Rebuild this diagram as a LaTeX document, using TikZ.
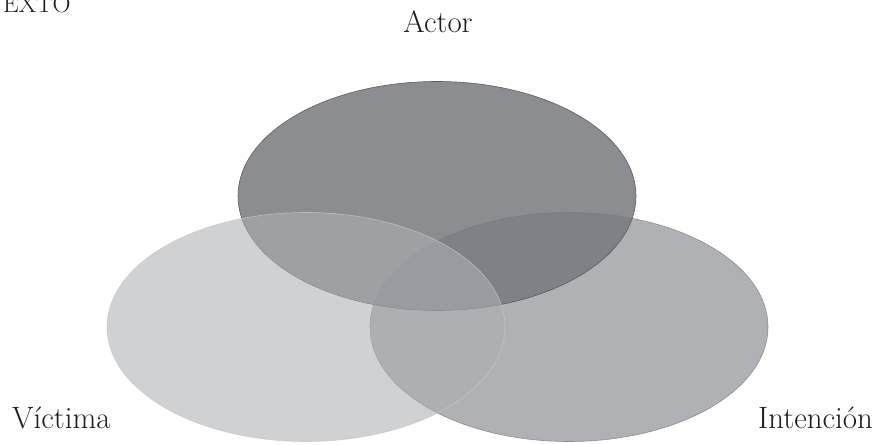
\documentclass[tikz,border=0pt]{standalone}
\usepackage{fontspec}
\usepackage{tikz}
\usetikzlibrary{shapes.geometric,positioning}
\definecolor{ActorGray}{RGB}{120,121,126}
\definecolor{VictimGray}{RGB}{174,175,179}
\definecolor{IntentGray}{RGB}{176,177,181}
\definecolor{RimGray}{RGB}{92,93,97}
\definecolor{InkGray}{RGB}{30,28,29}
\tikzset{
  blob/.style={ellipse,inner sep=0pt,minimum width=398bp,minimum height=229bp,
    line width=0.6pt},
  tag/.style={font=\fontsize{31}{36}\selectfont,inner sep=0pt,text=InkGray}
}

\begin{document}
\begin{tikzpicture}[x=1bp,y=-1bp]
  \useasboundingbox (0,0) rectangle (877,445);

  % the three sets, back to front
  \node[blob,fill=IntentGray,draw=IntentGray!80!black] (intencion) at (569,327) {};
  \node[blob,fill=ActorGray,fill opacity=0.85,draw=RimGray] (actor) at (437,196) {};
  \node[blob,fill=VictimGray,fill opacity=0.58,draw=VictimGray!70!white,
        draw opacity=0.8] (victima) at (306,327) {};

  % names
  \node[tag,anchor=base] (actorname) at (438,33) {Actor};
  \node[tag,anchor=base west] (victimaname) at (12,428) {Víctima};
  \node[tag,anchor=base east] (intencionname) at (873,428) {Intención};
  \node[tag,font=\fontsize{25}{30}\selectfont,anchor=base west] (contexto) at (3,13) {EXTO};
\end{tikzpicture}
\end{document}
